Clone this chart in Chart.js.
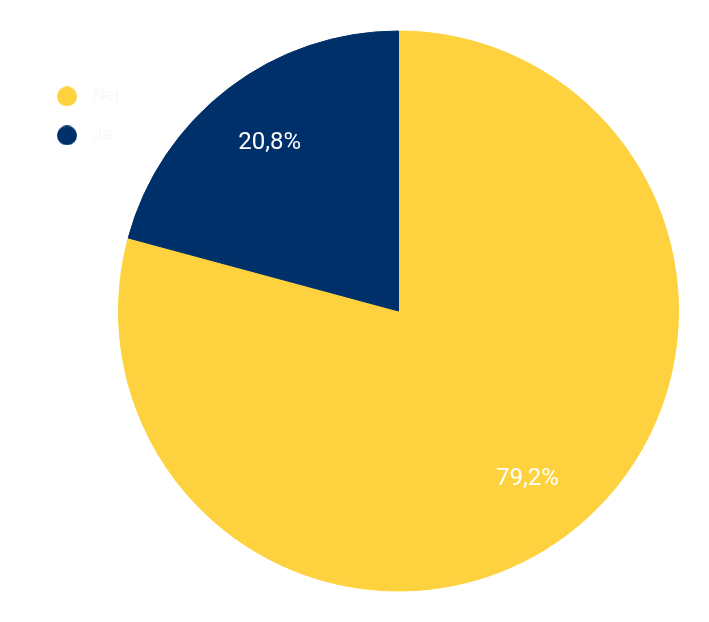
<!DOCTYPE html>
<html><head><meta charset="utf-8">
<script src="https://cdn.jsdelivr.net/npm/chart.js@4"></script>
<style>html,body{margin:0;padding:0;background:#fff}#wrap{width:709px;height:622px}</style>
</head><body><div id="wrap"><canvas id="c"></canvas></div>
<script>
const labels = ['Nej', 'Ja'];
const values = [79.2, 20.8];
const valueLabels = ['79,2%', '20,8%'];
const colors = ['#FDD23E', '#00306A'];

function dot(color) {
  const c = document.createElement('canvas');
  c.width = 20; c.height = 20;
  const g = c.getContext('2d');
  g.fillStyle = color;
  g.beginPath(); g.arc(10, 10, 10, 0, Math.PI * 2); g.fill();
  return c;
}
const dots = colors.map(dot);

const labelPlugin = {
  id: 'sliceLabels',
  afterDatasetsDraw(chart) {
    const ctx = chart.ctx;
    const meta = chart.getDatasetMeta(0);
    ctx.save();
    ctx.fillStyle = '#ffffff';
    ctx.font = '24px Roboto';
    ctx.textAlign = 'center';
    ctx.textBaseline = 'middle';
    meta.data.forEach((arc, i) => {
      const p = arc.getProps(['x','y','startAngle','endAngle','outerRadius'], true);
      const mid = (p.startAngle + p.endAngle) / 2;
      const r = p.outerRadius * 0.757;
      ctx.fillText(valueLabels[i], p.x + Math.cos(mid) * r, p.y + Math.sin(mid) * r);
    });
    ctx.restore();
  }
};

new Chart(document.getElementById('c'), {
  type: 'pie',
  data: { labels, datasets: [{ data: values, backgroundColor: colors, borderColor: colors, borderWidth: 1 }] },
  options: {
    responsive: true,
    maintainAspectRatio: false,
    animation: false,
    layout: { padding: 30 },
    plugins: {
      tooltip: { enabled: false },
      legend: {
        position: 'left',
        align: 'start',
        maxWidth: 88,
        title: { display: true, text: ' ', padding: 11 },
        labels: {
          usePointStyle: true, boxHeight: 14, pointStyleWidth: 32,
          color: '#f8f8f8', font: { size: 18, family: 'Roboto' }, padding: 21,
          generateLabels(chart) {
            const items = Chart.overrides.pie.plugins.legend.labels.generateLabels(chart);
            items.forEach((it, i) => { it.pointStyle = dots[i]; });
            return items;
          }
        }
      }
    }
  },
  plugins: [labelPlugin]
});
</script></body></html>
